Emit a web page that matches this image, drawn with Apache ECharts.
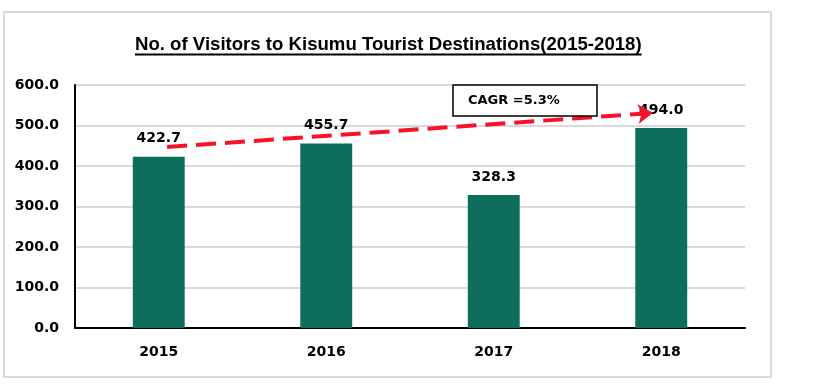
<!DOCTYPE html>
<html>
<head>
<meta charset="utf-8">
<script src="https://cdn.jsdelivr.net/npm/echarts@6/dist/echarts.min.js"></script>
<style>
  html, body { margin: 0; padding: 0; background: #fff; }
  #chart { width: 816px; height: 390px; }
</style>
</head>
<body>
<div id="chart"></div>
<script>
const titleText = 'No. of Visitors to Kisumu Tourist Destinations(2015-2018)';
const categories = ['2015', '2016', '2017', '2018'];
const visitors = [422.7, 455.7, 328.3, 494.0];
const yTicks = [0, 100, 200, 300, 400, 500, 600];
const cagrText = 'CAGR =5.3%';
// trend arrow endpoints: [category position, value]
const arrowStart = [0.05, 447];
const arrowEnd = [2.95, 531];

const labelFont = 'DejaVu Sans';
const titleFont = '"Liberation Sans", Arial, sans-serif';

function measure(text, font) {
  const c = document.createElement('canvas').getContext('2d');
  c.font = font;
  return c.measureText(text).width;
}
// fit the title to its width in the reference
const titleTarget = 506;
const baseW = measure(titleText, 'bold 20px "Liberation Sans"');
const titleSize = Math.round(20 * titleTarget / baseW * 10) / 10;
const titleW = measure(titleText, 'bold ' + titleSize + 'px "Liberation Sans"');
const titleLeft = 135;

const chart = echarts.init(document.getElementById('chart'), null, { renderer: 'canvas' });
chart.setOption({
  animation: false,
  backgroundColor: '#fff',
  title: {
    text: titleText,
    left: titleLeft - 5,
    top: 30,
    textStyle: { fontFamily: titleFont, fontWeight: 'bold', fontSize: titleSize, color: '#000' }
  },
  grid: { left: 75, right: 71, top: 85, bottom: 62 },
  xAxis: [{
    type: 'category',
    data: categories,
    axisLine: { lineStyle: { color: '#000', width: 2 } },
    axisTick: { show: false },
    axisLabel: { margin: 17, color: '#000', fontFamily: labelFont, fontWeight: 'bold', fontSize: 14 }
  }, {
    type: 'value',
    min: -0.5, max: 3.5,
    show: false
  }],
  yAxis: {
    type: 'value',
    min: yTicks[0],
    max: yTicks[yTicks.length - 1],
    interval: yTicks[1] - yTicks[0],
    axisLine: { show: true, onZero: false, lineStyle: { color: '#000', width: 2 } },
    axisTick: { show: false },
    splitLine: { lineStyle: { color: '#d9d9d9', width: 2 } },
    axisLabel: {
      margin: 16, color: '#000', fontFamily: labelFont, fontWeight: 'bold', fontSize: 14,
      formatter: v => v.toFixed(1)
    }
  },
  series: [{
    type: 'bar',
    data: visitors,
    barWidth: '31%',
    itemStyle: { color: '#0e6e5c' },
    label: {
      show: true, position: 'top', distance: 11,
      color: '#000', fontFamily: labelFont, fontWeight: 'bold', fontSize: 14,
      formatter: p => p.value.toFixed(1)
    }
  }, {
    type: 'line',
    xAxisIndex: 1,
    data: [],
    silent: true,
    markLine: {
      silent: true,
      symbol: ['none', 'arrow'],
      symbolSize: 15,
      label: { show: false },
      lineStyle: { color: '#f5132a', width: 4, type: [20, 9], opacity: 1 },
      data: [[{ coord: arrowStart }, { coord: arrowEnd }]]
    },
    z: 5
  }],
  graphic: [
    {
      type: 'rect', z: 100, silent: true,
      shape: { x: 4, y: 12, width: 767, height: 365 },
      style: { fill: null, stroke: '#d9d9d9', lineWidth: 2 }
    },
    {
      type: 'line', z: 100, silent: true,
      shape: { x1: titleLeft, y1: 54.5, x2: titleLeft + titleW, y2: 54.5 },
      style: { stroke: '#000', lineWidth: 2 }
    },
    {
      type: 'rect', z: 100, silent: true,
      shape: { x: 453, y: 85, width: 144, height: 31 },
      style: { fill: '#fff', stroke: '#000', lineWidth: 1.5 }
    },
    {
      type: 'text', z: 101, silent: true,
      x: 468, y: 101,
      style: { text: cagrText, fill: '#000', font: 'bold 13px "DejaVu Sans"', verticalAlign: 'middle' }
    }
  ]
});
</script>
</body>
</html>
